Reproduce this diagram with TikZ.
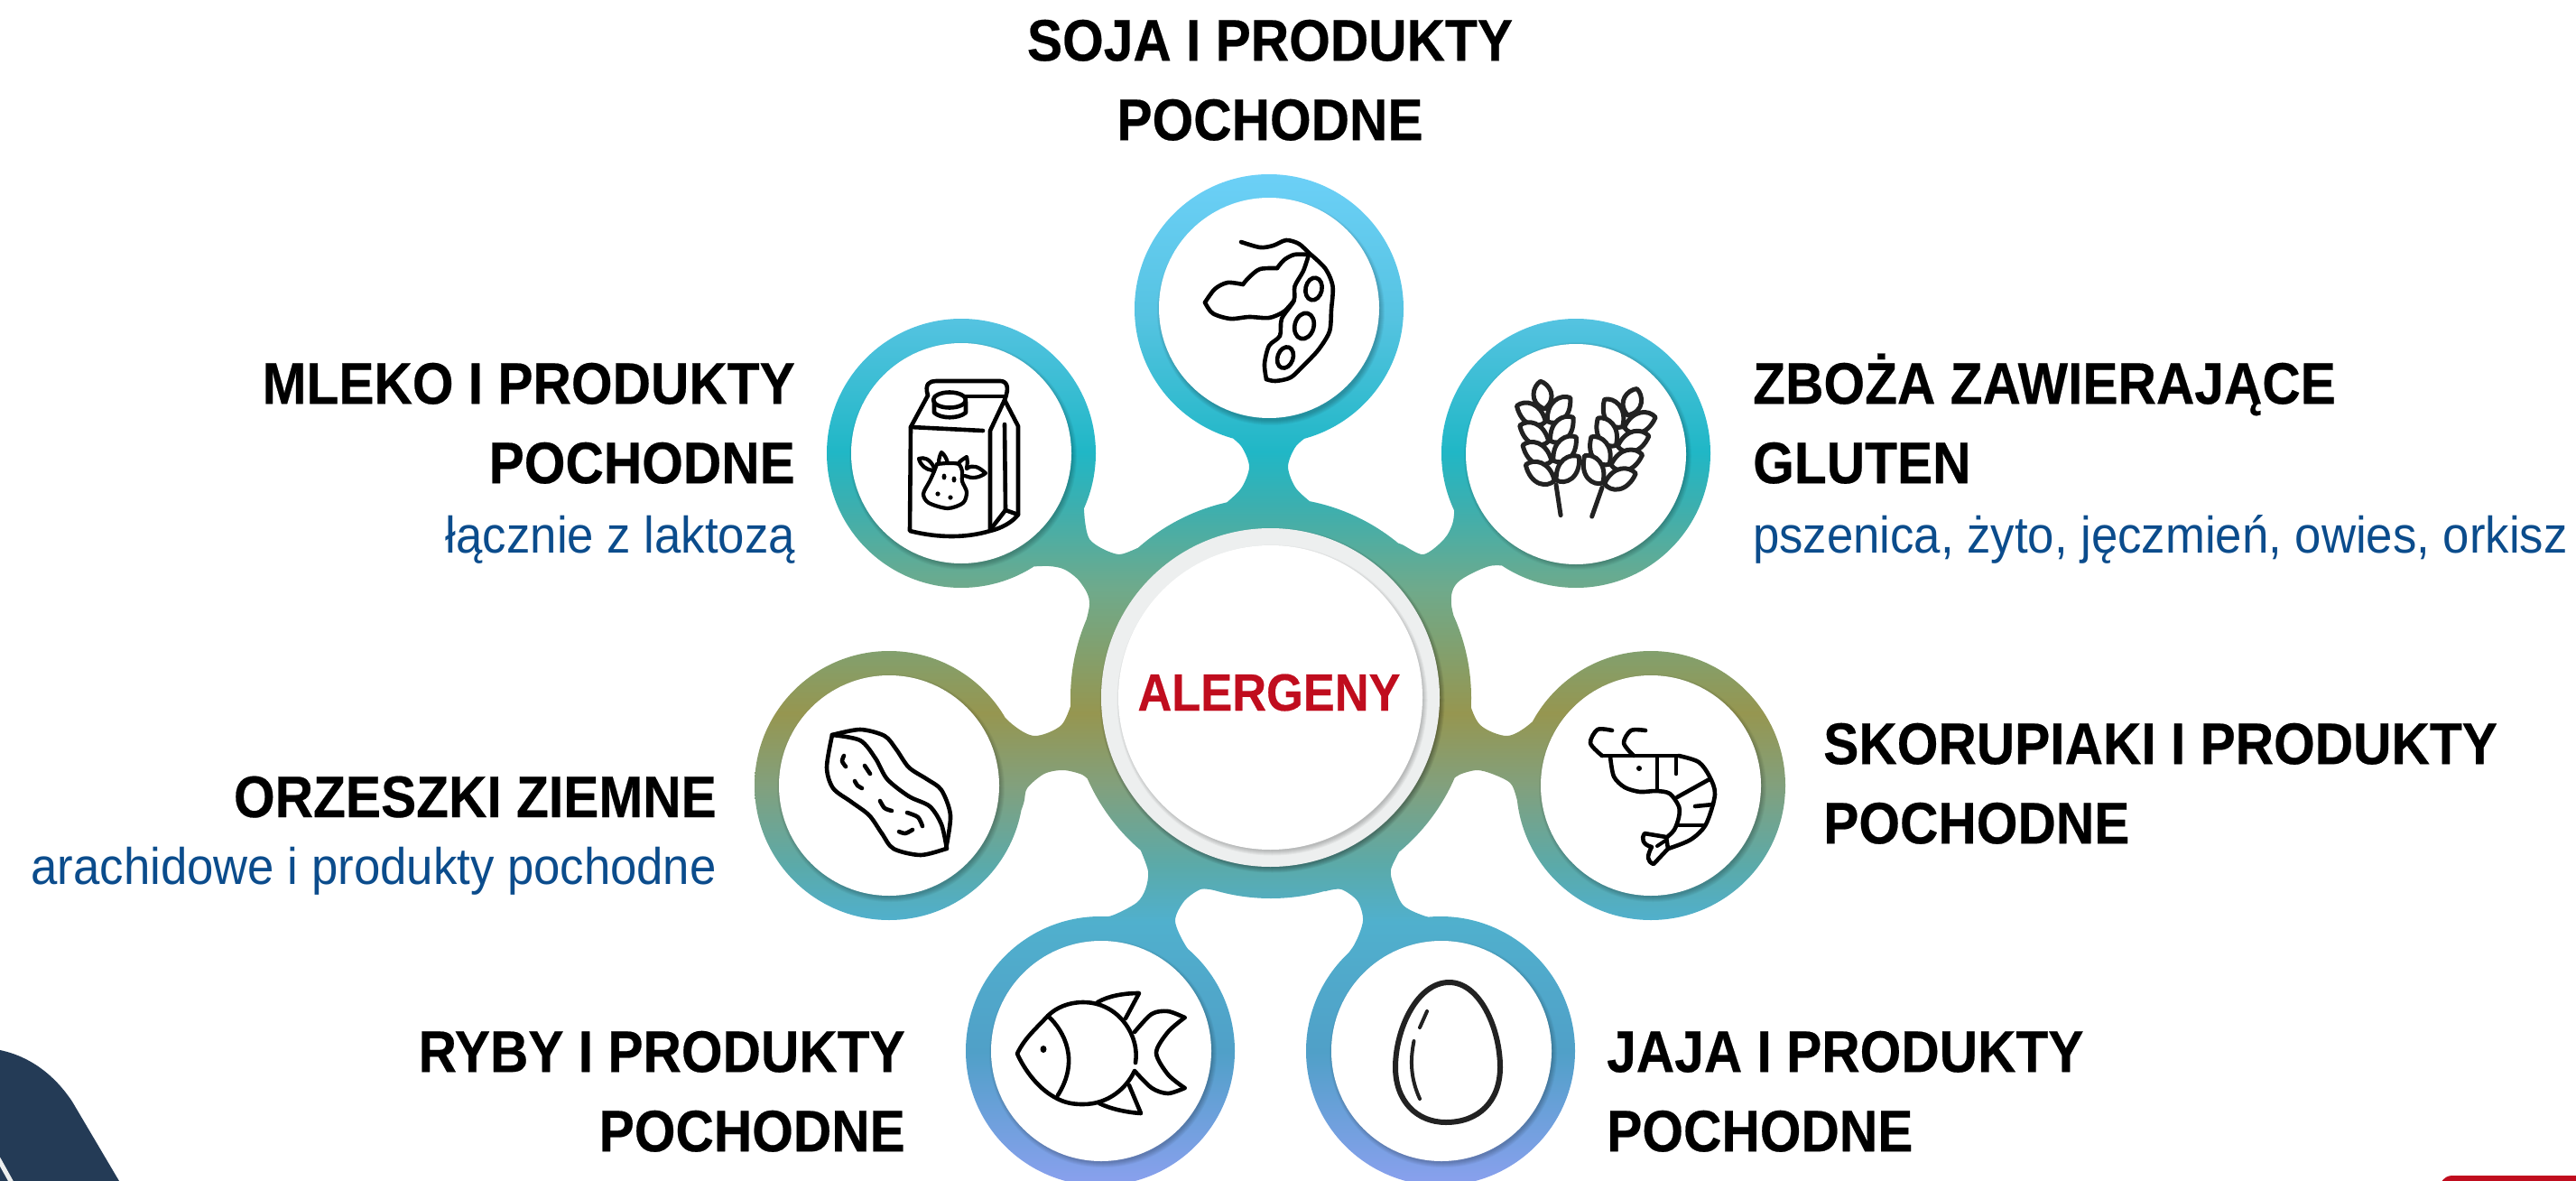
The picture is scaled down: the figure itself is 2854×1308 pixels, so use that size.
\documentclass[tikz,border=0pt]{standalone}
\usepackage{fontspec}
\setmainfont[FakeStretch=0.903,BoldFeatures={FakeBold=0.35}]{Liberation Sans}
\newfontfamily\subfont[FakeStretch=0.925]{Liberation Sans}
\definecolor{g0}{RGB}{138,160,238}
\definecolor{g1}{RGB}{110,160,220}
\definecolor{g2}{RGB}{80,160,200}
\definecolor{g3}{RGB}{80,176,205}
\definecolor{g4}{RGB}{90,170,170}
\definecolor{g5}{RGB}{130,160,125}
\definecolor{g6}{RGB}{150,150,80}
\definecolor{g7}{RGB}{130,160,110}
\definecolor{g8}{RGB}{110,170,140}
\definecolor{g9}{RGB}{60,175,175}
\definecolor{g10}{RGB}{32,183,198}
\definecolor{g11}{RGB}{85,195,225}
\definecolor{g12}{RGB}{108,208,247}
\definecolor{navy}{RGB}{36,59,86}
\definecolor{crimson}{RGB}{192,13,30}
\definecolor{ringgray}{RGB}{237,239,239}
\definecolor{subblue}{RGB}{11,76,140}
\definecolor{inkdark}{RGB}{34,34,34}
\pgfdeclareverticalshading{blobshade}{100bp}{color(0bp)=(g0); color(25bp)=(g0); color(28.26bp)=(g1); color(31.6bp)=(g2); color(38.07bp)=(g3); color(40.74bp)=(g4); color(44.76bp)=(g5); color(48.33bp)=(g6); color(51.45bp)=(g7); color(54.57bp)=(g8); color(58.59bp)=(g9); color(61.26bp)=(g10); color(67.82bp)=(g11); color(75bp)=(g12); color(100bp)=(g12)}
\tikzset{
  satdisk/.style={circle,fill=white,minimum size=244pt,inner sep=0pt},
  icon/.style={draw=black,line width=4.6pt,line cap=round,line join=round},
  title/.style={font=\fontsize{65}{88}\selectfont\bfseries,text=black,inner sep=0pt},
  subtitle/.style={font=\fontsize{57}{66}\selectfont\subfont,text=subblue,inner sep=0pt},
}
\newcommand{\softshadow}[4]{%
  \foreach \k in {0,...,5}{\fill[black,opacity=#4] (#1,#2) ++(2,3) circle[radius=#3pt+\k pt];}}
\newcommand{\wheatear}[3]{%
  \begin{scope}[shift={(#1,#2)},rotate=#3,icon,draw=inkdark,line width=5pt]
    \draw (0,0) -- (0,34);
    \draw[fill=white] (0,-85) .. controls (-17,-95) and (-9,-112) .. (0,-116) .. controls (9,-112) and (17,-95) .. cycle;
    \foreach \t in {71,49,27,5}{
      \draw[fill=white] (-1,-\t) .. controls (-10,{-\t+7}) and (-28,{-\t+2}) .. (-30,{-\t-22}) .. controls (-20,{-\t-28}) and (-3,{-\t-22}) .. cycle;
      \draw[fill=white] (1,-\t) .. controls (10,{-\t+7}) and (28,{-\t+2}) .. (30,{-\t-22}) .. controls (20,{-\t-28}) and (3,{-\t-22}) .. cycle;
    }
  \end{scope}}
\begin{document}
\begin{tikzpicture}[x=1pt,y=-1pt]
\useasboundingbox (0,0) rectangle (2854,1308);
% corner shapes
\fill[navy] (0,1163) .. controls (33,1170) and (60,1190) .. (80,1220) -- (132,1308) -- (0,1308) -- cycle;
\draw[ringgray,line width=5pt] (-2,1283) -- (13,1310);
\fill[crimson] (2704,1310) .. controls (2708,1304) and (2712,1302) .. (2717,1302) -- (2856,1302) -- (2856,1310) -- cycle;
% gradient blob
\begin{scope}
\clip (1406,342) circle[radius=149pt]
      (1746,502) circle[radius=149pt]
      (1065,502) circle[radius=149pt]
      (985,870) circle[radius=149pt]
      (1829,870) circle[radius=149pt]
      (1219,1164) circle[radius=149pt]
      (1596,1164) circle[radius=149pt]
      (1408,773) circle[radius=222pt]
  plot[smooth] coordinates {(1356,478) (1375,494) (1384,517) (1375,541) (1355,560)}
  -- plot[smooth] coordinates {(1281,597) (1258,608) (1240,614) (1222,608) (1207,597) (1202,577) (1200,545)}
  -- plot[smooth] coordinates {(1135,628) (1162,627) (1180,631) (1197,645) (1207,670) (1192,727)}
  -- plot[smooth] coordinates {(1189,773) (1176,803) (1146,815) (1119,800) (1086,763)}
  -- plot[smooth] coordinates {(1121,927) (1134,890) (1138,873) (1157,857) (1178,853) (1199,858) (1209,867)}
  -- plot[smooth] coordinates {(1263,940) (1272,965) (1269,985) (1259,1000) (1232,1014) (1210,1017)}
  -- plot[smooth] coordinates {(1334,1071) (1314,1048) (1302,1020) (1312,998) (1330,985) (1345,986)}
  -- plot[smooth] coordinates {(1469,987) (1486,985) (1504,998) (1510,1020) (1500,1047) (1481,1071)}
  -- plot[smooth] coordinates {(1600,1017) (1580,1015) (1555,1003) (1544,980) (1541,963) (1552,940)}
  -- plot[smooth] coordinates {(1605,867) (1617,858) (1636,853) (1653,857) (1673,867) (1680,883) (1686,910) (1697,930)}
  -- plot[smooth] coordinates {(1730,763) (1697,800) (1670,815) (1640,803) (1627,773) (1623,727) (1608,670) (1615,645) (1650,627) (1677,628)}
  -- plot[smooth] coordinates {(1612,545) (1610,577) (1600,597) (1577,614) (1553,603) (1535,597)}
  -- plot[smooth] coordinates {(1457,560) (1436,541) (1427,517) (1436,494) (1456,478)}
  -- cycle;
\shade[shading=blobshade] (0,192) rectangle (2854,1313);
\end{scope}
% satellite discs
\softshadow{1406}{342}{121}{0.04}
\softshadow{1746}{502}{121}{0.04}
\softshadow{1065}{502}{121}{0.04}
\softshadow{985}{870}{121}{0.04}
\softshadow{1829}{870}{121}{0.04}
\softshadow{1220}{1164}{121}{0.04}
\softshadow{1597}{1164}{121}{0.04}
\node[satdisk] (soja) at (1406,341) {};
\node[satdisk] (zboza) at (1746,503) {};
\node[satdisk] (mleko) at (1065,502) {};
\node[satdisk] (orzeszki) at (985,870) {};
\node[satdisk] (skorupiaki) at (1829,870) {};
\node[satdisk] (ryby) at (1220,1164) {};
\node[satdisk] (jaja) at (1597,1164) {};
% centre
\softshadow{1407.5}{772.5}{186}{0.06}
\node[circle,fill=ringgray,minimum size=375pt,inner sep=0pt] (ring) at (1407.5,772.5) {};
\softshadow{1407.5}{772.5}{167}{0.04}
\node[circle,fill=white,minimum size=337pt,inner sep=0pt] (centre) at (1407.5,772.5) {};
\node[anchor=base,inner sep=0pt,text=crimson,font=\fontsize{58}{60}\selectfont\bfseries] (alergeny) at (1406,787) {ALERGENY};
% labels
\node[title,align=center,anchor=north] (tsoja) at (1407,7) {\rule{0pt}{60pt}SOJA I PRODUKTY\\POCHODNE};
\node[title,align=right,anchor=north east] (tmleko) at (881,387) {\rule{0pt}{60pt}MLEKO I PRODUKTY\\POCHODNE};
\node[subtitle,anchor=base east] (smleko) at (881,612) {łącznie z laktozą};
\node[title,align=left,anchor=north west] (tzboza) at (1942,387) {\rule{0pt}{60pt}ZBOŻA ZAWIERAJĄCE\\GLUTEN};
\node[subtitle,anchor=base west] (szboza) at (1942,612) {pszenica, żyto, jęczmień, owies, orkisz};
\node[title,anchor=base east] (torzeszki) at (794,905) {ORZESZKI ZIEMNE};
\node[subtitle,anchor=base east] (sorzeszki) at (794,979) {arachidowe i produkty pochodne};
\node[title,align=left,anchor=north west] (tskor) at (2020,786) {\rule{0pt}{60pt}SKORUPIAKI I PRODUKTY\\POCHODNE};
\node[title,align=right,anchor=north east] (tryby) at (1003,1127) {\rule{0pt}{60pt}RYBY I PRODUKTY\\POCHODNE};
\node[title,align=left,anchor=north west] (tjaja) at (1780,1127) {\rule{0pt}{60pt}JAJA I PRODUKTY\\POCHODNE};
% soybean icon
\draw[icon] plot[smooth] coordinates {(1375,268) (1396,274) (1410.5,272) (1425,266) (1439,270) (1450,280)};
\draw[icon] plot[smooth] coordinates {(1450,282) (1434,282) (1422.5,288) (1415,297)} ;
\draw[icon] plot[smooth] coordinates {(1415,297) (1396,298) (1384,307) (1377,315)};
\draw[icon] plot[smooth] coordinates {(1377,315) (1360,313) (1346,320) (1335,335)};
\draw[icon] plot[smooth] coordinates {(1335,335) (1343.5,347) (1363,353) (1384,351) (1406,352) (1422.5,345) (1433.5,333)};
\draw[icon] plot[smooth] coordinates {(1450,280) (1468,297) (1476.5,317) (1475,343) (1473,367) (1461,387) (1446,403) (1430,418) (1413,422) (1403,420)};
\draw[icon] plot[smooth] coordinates {(1403,420) (1401,403) (1406,383) (1418,372) (1420,353) (1433.5,333) (1434.5,317) (1444,300) (1450,282)};
\draw[icon] (1455.5,320) ellipse[x radius=9pt,y radius=12.5pt,rotate=-12];
\draw[icon] (1445,361) ellipse[x radius=10.5pt,y radius=14.5pt,rotate=-15];
\draw[icon] (1424,396) ellipse[x radius=8.5pt,y radius=12pt,rotate=-20];
% wheat icon
\wheatear{1724}{537}{8.6}
\wheatear{1775}{540}{-19.4}
% milk carton icon
\draw[icon] (1028,438) .. controls (1024,425) and (1030,422) .. (1037,422) -- (1108,422) .. controls (1115,422) and (1119,428) .. (1113,443);
\draw[icon] (1070,439) -- (1113,439);
\draw[icon] (1028,438) -- (1009,473) -- (1008,588) .. controls (1040,596) and (1070,596) .. (1097,588) .. controls (1110,585) and (1122,578) .. (1128,570) -- (1128,472) -- (1113,443) -- (1097,477) -- (1097,587);
\draw[icon] (1009,473) -- (1089,477);
\draw[icon] (1113,470) -- (1114,565) -- (1128,570);
\draw[icon] (1100,583) -- (1114,565);
\draw[icon] (1052,443) ellipse[x radius=18pt,y radius=8.5pt];
\draw[icon] (1035,445) -- (1035,457) .. controls (1042,464) and (1062,464) .. (1070,457) -- (1070,445);
\draw[icon,line width=4.2pt] (1035,518) .. controls (1030,508) and (1024,506) .. (1018,508) .. controls (1020,516) and (1026,520) .. (1033,521);
\draw[icon,line width=4.2pt] (1071,519) .. controls (1078,514) and (1084,517) .. (1092,524) .. controls (1084,530) and (1076,530) .. (1069,527);
\draw[icon,line width=4.2pt] (1040,513) .. controls (1040,507) and (1042,503) .. (1043,501) .. controls (1046,503) and (1049,508) .. (1050,513);
\draw[icon,line width=4.2pt] (1062,513) .. controls (1064,510) and (1068,508) .. (1071,506) .. controls (1072,510) and (1072,514) .. (1071,518);
\draw[icon,line width=4.2pt] plot[smooth] coordinates {(1038,514) (1050,513) (1062,514) (1066,522) (1066,533) (1071,545) (1067,557) (1050,563) (1029,557) (1023,547) (1030,533) (1035,522) (1038,514)};
\fill (1046,528) ellipse[x radius=2.5pt,y radius=3.5pt] (1057,531) ellipse[x radius=2.5pt,y radius=3.5pt] (1039,547) circle[radius=2.6pt] (1053,551) circle[radius=2.6pt];
% peanut icon
\draw[icon] plot[smooth] coordinates {(922,814) (953,808) (980,815) (993,830) (1007,850) (1027,863) (1043,875) (1053,903) (1048,940)};
\draw[icon] plot[smooth] coordinates {(1048,940) (1020,947) (990,940) (977,923) (963,903) (943,888) (923,873) (916,850) (922,814)};
\draw[icon] plot[smooth] coordinates {(922,814) (953,820) (970,840) (983,863) (1007,882) (1030,893) (1043,913) (1049,940)};
\draw[icon] plot[smooth] coordinates {(935,837) (933,843) (937,849)};
\draw[icon] (958,848) -- (964,857);
\draw[icon] plot[smooth] coordinates {(947,865) (950,870) (955,873)};
\draw[icon] plot[smooth] coordinates {(975,887) (980,895) (988,898)};
\draw[icon] plot[smooth] coordinates {(1005,900) (1017,905) (1022,915)};
\draw[icon] plot[smooth] coordinates {(996,921) (1003,923) (1011,919)};
% shrimp icon
\draw[icon] plot[smooth] coordinates {(1786,809) (1770,808) (1762,823) (1775,837)};
\draw[icon] plot[smooth] coordinates {(1823,809) (1807,809) (1799,823) (1810,837)};
\draw[icon] (1775,837) -- (1860,837);
\draw[icon] plot[smooth] coordinates {(1784,838) (1788,860) (1800,872) (1817,877) (1835,876) (1850,879) (1860,893) (1860,905) (1855,919) (1846,928)};
\draw[icon] plot[smooth] coordinates {(1860,837) (1882,844) (1894,860) (1900,880) (1890,913) (1873,930) (1848,940)};
\draw[icon] (1836,838) -- (1836,873);
\draw[icon] (1857,840) -- (1857,857);
\draw[icon] (1858,883) -- (1894,863);
\draw[icon] (1878,893) -- (1898,891);
\draw[icon] (1860,914) -- (1888,914);
\fill (1816,851) circle[radius=3pt];
\draw[icon] (1846,927) -- (1848,940) -- (1832,957) .. controls (1825,954) and (1824,949) .. (1830,938) .. controls (1820,936) and (1818,928) .. (1822,923) -- cycle;
\draw[icon,line width=4pt] (1845,931) -- (1836,937);
% fish icon
\draw[icon] (1258,1177) .. controls (1263,1148) and (1240,1110) .. (1200,1110) .. controls (1184,1110) and (1170,1116) .. (1161,1125) .. controls (1147,1140) and (1135,1150) .. (1127,1167) .. controls (1135,1185) and (1150,1205) .. (1168,1215) .. controls (1180,1222) and (1190,1223) .. (1200,1223) .. controls (1228,1223) and (1248,1205) .. (1256.5,1187);
\draw[icon] (1161,1125) .. controls (1180,1143) and (1196,1175) .. (1172,1213);
\fill (1156,1162) ellipse[x radius=3.5pt,y radius=4pt];
\draw[icon] (1216,1110) .. controls (1228,1103) and (1245,1100) .. (1262,1100) -- (1247,1128);
\draw[icon] (1218,1222) .. controls (1230,1228) and (1248,1232) .. (1264,1233) -- (1251,1202);
\draw[icon] plot[smooth] coordinates {(1257,1143) (1276,1123) (1294,1120) (1312.5,1127)};
\draw[icon] plot[smooth] coordinates {(1312.5,1127) (1294,1143) (1281,1166) (1294,1190) (1312.5,1205)};
\draw[icon] plot[smooth] coordinates {(1312.5,1205) (1294,1211) (1276,1205) (1257,1186)};
% egg icon
\draw[icon,draw=inkdark,line width=6pt] (1605.5,1088) .. controls (1570,1088) and (1546,1140) .. (1546,1182) .. controls (1546,1220) and (1570,1243) .. (1602,1243) .. controls (1638,1243) and (1662,1220) .. (1662,1182) .. controls (1662,1140) and (1640,1088) .. cycle;
\draw[icon,draw=inkdark,line width=4pt] (1581,1120) -- (1573,1138);
\draw[icon,draw=inkdark,line width=4pt] (1566.5,1153) .. controls (1562,1175) and (1563,1195) .. (1573,1217);
\end{tikzpicture}
\end{document}
